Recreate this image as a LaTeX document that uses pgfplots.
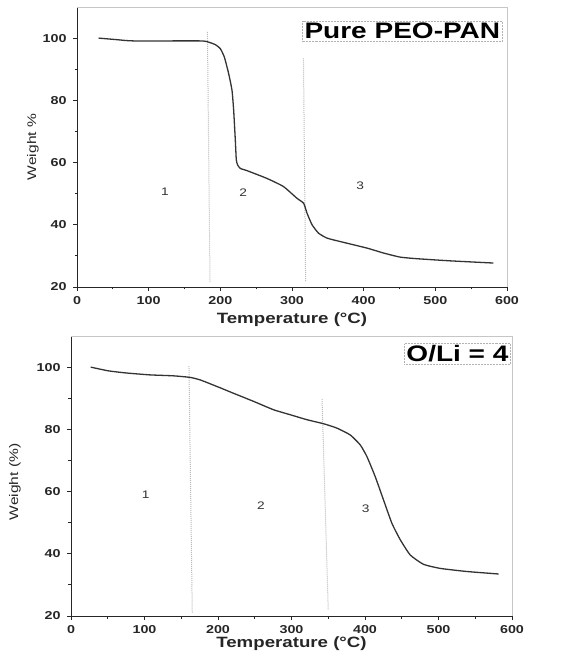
\documentclass[border=0pt]{standalone}
\usepackage{pgfplots}
\pgfplotsset{compat=1.18}
\usepackage{fontspec}
\setmainfont{Liberation Sans}[FakeStretch=1.25]

\pgfplotsset{
  tga/.style={
    scale only axis, clip=false,
    axis lines=left,
    axis line style={-, line width=0.9bp, black!85},
    xmin=0, xmax=600, ymin=20, ymax=110,
    xtick={0,100,...,600}, ytick={20,40,...,100},
    minor x tick num=1, minor y tick num=1,
    tick align=outside, major tick length=4bp, minor tick length=2.5bp,
    tick style={black!85, line width=0.8bp},
    /pgf/number format/assume math mode=true,
    ticklabel style={font=\fontsize{11.5}{13}\selectfont\bfseries, black!85},
    xticklabel shift=1.5bp,
    yticklabel shift=3bp,
    xlabel={Temperature (\textdegree C)},
    xlabel style={font=\fontsize{15}{17}\selectfont\bfseries, black!85},
    ylabel style={font=\fontsize{12.5}{14}\selectfont, black!85},
  },
  tgcurve/.style={smooth, tension=0.3, line width=1.3bp, black!80},
  tgdiv/.style={gray!55, densely dotted, line width=1bp},
}
\tikzset{
  tgbox/.style={draw=gray!60, densely dotted, line width=0.5bp, inner sep=2bp,
    font=\fontsize{22.5}{25}\selectfont\bfseries},
  tgnum/.style={font=\fontsize{11}{13}\selectfont, black!80},
}

\begin{document}
\begin{tikzpicture}
\useasboundingbox (0,0) rectangle (570bp,658bp);

% top panel: pure PEO-PAN
\begin{axis}[tga,
  at={(77bp,371bp)}, anchor=south west, width=430bp, height=280bp,
  xlabel style={at={(axis description cs:0.5,-0.116)}, anchor=center},
  ylabel={Weight \%},
  ylabel style={at={(axis description cs:-0.1023,0.5)}, anchor=center, rotate=0},
]
\draw[gray!45, line width=0.6bp] (rel axis cs:0,1) -- (rel axis cs:1,1) -- (rel axis cs:1,0);
\addplot[tgdiv] coordinates {(182,102) (185.6,21.6)};
\addplot[tgdiv] coordinates {(316,93.5) (319,21.6)};
\addplot[tgcurve] coordinates {
  (30.2,100) (55.8,99.5) (79,99.1) (172,99.1) (183.7,98.7) (193,97.9)
  (200,96.6) (205.6,93.9) (211.6,88.6) (216.3,83.2) (218.6,76.8)
  (220.9,67.2) (222.3,60.8) (224.2,59.2) (227.9,58.1) (237.2,57.4)
  (265,54.9) (288,52.3) (307,48.5) (316.3,46.9) (321,43.7) (328,40)
  (337,37.3) (349,35.7) (367.4,34.6) (404.7,32.5) (428,30.9) (451,29.6)
  (474,29.1) (521,28.4) (581,27.7)};
\node[tgnum] at (axis cs:122.8,50.6) {1};
\node[tgnum] at (axis cs:232,50.3) {2};
\node[tgnum] at (axis cs:395,52.5) {3};
\node[tgbox] at (axis cs:454,102.2) {Pure PEO-PAN};
\end{axis}

% bottom panel: O/Li = 4
\begin{axis}[tga,
  at={(71bp,42bp)}, anchor=south west, width=441bp, height=280bp,
  xlabel style={at={(axis description cs:0.5,-0.098)}, anchor=center},
  ylabel={Weight (\%)},
  ylabel style={at={(axis description cs:-0.127,0.479)}, anchor=center, rotate=0},
]
\draw[gray!45, line width=0.6bp] (rel axis cs:0,1) -- (rel axis cs:1,1) -- (rel axis cs:1,0);
\addplot[tgdiv] coordinates {(160.5,100.3) (165,21)};
\addplot[tgdiv] coordinates {(341.5,89.8) (350,22)};
\addplot[tgcurve] coordinates {
  (26.8,100) (50.8,98.8) (75.8,98.1) (107.6,97.5) (139.3,97.2) (162,96.7)
  (175.6,95.9) (198.3,93.8) (221,91.6) (248.3,89) (275.5,86.3) (298.2,84.7)
  (320.9,83.1) (343.6,81.8) (361.7,80.4) (379.9,78.2) (393.5,75) (402.5,71.3)
  (413.9,64.8) (425.2,57.3) (436.6,49.8) (448,44.5) (461.6,39.6) (479.7,36.6)
  (502.4,35.3) (538.7,34.3) (581.9,33.5)};
\node[tgnum] at (axis cs:101.6,59.1) {1};
\node[tgnum] at (axis cs:258.5,55.5) {2};
\node[tgnum] at (axis cs:401,54.6) {3};
\node[tgbox] at (axis cs:525.8,104.3) {O/Li = 4};
\end{axis}
\end{tikzpicture}
\end{document}
